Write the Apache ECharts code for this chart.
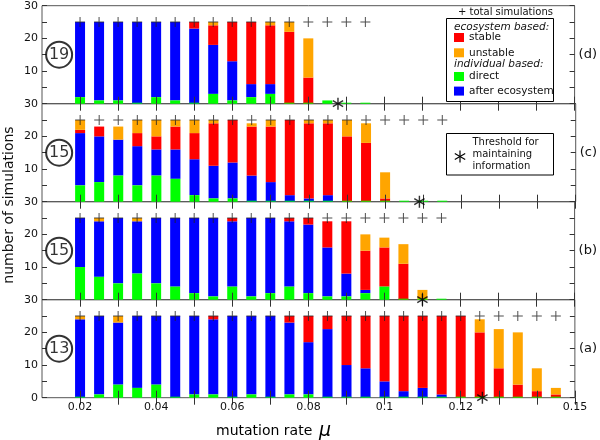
<!DOCTYPE html>
<html><head><meta charset="utf-8">
<script src="https://cdn.jsdelivr.net/npm/echarts@6/dist/echarts.min.js"></script>
<style>html,body{margin:0;padding:0;background:#fff}#chart{width:600px;height:440px}</style>
</head><body><div id="chart"></div>
<script>
// ---------- data ----------
const mutationRates = [0.02,0.025,0.03,0.035,0.04,0.045,0.05,0.055,0.06,0.065,0.07,0.075,0.08,0.085,0.09,0.095,0.1,0.105,0.11,0.115,0.12,0.125,0.13,0.135,0.14,0.145];
const xTickValues = [0.02,0.03,0.04,0.05,0.06,0.07,0.08,0.09,0.1,0.11,0.12,0.13,0.14,0.15];
const xTickLabels = [0.02,0.04,0.06,0.08,0.1,0.12,0.15];
const panelNames = ['(d)','(c)','(b)','(a)'];
const circledNumbers = ['19','15','15','13'];
const thresholds = [0.0878, 0.109, 0.11, 0.1257];

// panel (d)
const directD   = [2,1,1,0,2,1,0,3,1,2,3,0,0,1,0,0];
const afterD    = [23,24,24,25,23,24,23,15,12,4,3,0,0,0,0,0];
const stableD   = [0,0,0,0,0,0,2,6,12,19,18,22,8,0,0,0];
const unstableD = [0,0,0,0,0,0,0,1,0,0,1,3,12,0,0,0];
const totalD    = [25,25,25,25,25,25,25,25,25,25,25,25,25,25,25,25];
// panel (c)
const directC   = [5,6,8,5,8,7,2,1,1,0,0,0,0,0,0,0,0,0,0,0];
const afterC    = [16,14,11,12,8,9,11,10,11,8,6,2,1,2,0,0,0,0,0,0];
const stableC   = [1,3,0,4,4,7,8,13,13,15,17,23,23,22,20,18,1,0,0,0];
const unstableC = [3,0,4,4,5,2,4,1,0,1,2,0,1,1,5,6,8,0,0,0];
const totalC    = [25,25,25,25,25,25,25,25,25,25,25,25,25,25,25,25,25,25,25,25];
// panel (b)
const directB   = [10,7,5,8,5,4,2,1,4,1,2,4,2,1,1,2,4,0,0,0];
const afterB    = [15,17,20,16,20,21,23,24,20,24,23,20,21,15,7,1,0,0,0,0];
const stableB   = [0,0,0,0,0,0,0,0,1,0,0,1,2,8,16,12,12,11,0,0];
const unstableB = [0,1,0,1,0,0,0,0,0,0,0,0,0,0,0,5,3,6,3,0];
const totalB    = [25,25,25,25,25,25,25,25,25,25,25,25,25,25,25,25,25,25,25,25];
// panel (a)
const directA   = [0,1,4,3,4,0,1,1,0,1,0,1,1,0,0,0,0,0,0,0,0,0,0,0,0,0];
const afterA    = [24,24,19,22,21,25,24,23,25,24,25,22,16,21,10,9,5,2,3,1,0,0,0,0,0,0];
const stableA   = [0,0,0,0,0,0,0,1,0,0,0,2,8,4,15,16,20,23,22,24,25,20,9,4,2,1];
const unstableA = [1,0,2,0,0,0,0,0,0,0,0,0,0,0,0,0,0,0,0,0,0,4,12,16,7,2];
const totalA    = [25,25,25,25,25,25,25,25,25,25,25,25,25,25,25,25,25,25,25,25,25,25,25,25,25,25];

const panels = [
  {direct: directD, after: afterD, stable: stableD, unstable: unstableD, total: totalD},
  {direct: directC, after: afterC, stable: stableC, unstable: unstableC, total: totalC},
  {direct: directB, after: afterB, stable: stableB, unstable: unstableB, total: totalB},
  {direct: directA, after: afterA, stable: stableA, unstable: unstableA, total: totalA}
];

// ---------- styling ----------
const FONT = 'DejaVu Sans';
const COLORS = {stable:'#ff0000', unstable:'#ffa500', direct:'#00ff00', after:'#0000ff'};
const plusPath = 'path://M-0.5,-5H0.5V-0.5H5V0.5H0.5V5H-0.5V0.5H-5V-0.5H-0.5Z';
const starPath = 'path://M-0.6,-5L0.6,-5L0.6,5L-0.6,5Z M4.03,-3.02L4.63,-1.98L-4.03,3.02L-4.63,1.98Z M-4.63,-1.98L-4.03,-3.02L4.63,1.98L4.03,3.02Z';

const GRID_TOP = 5.7, GRID_H = 98;
const grids = [], xAxes = [], yAxes = [], series = [];

// value first so that the y dimension is the stacked one; x read via encode
function pairs(arr) { return arr.map((v, k) => [v, mutationRates[k]]); }
const ENC = {x: 1, y: 0};

panels.forEach((p, i) => {
  grids.push({left: 42, right: 22, top: GRID_TOP + i * GRID_H, height: GRID_H,
    show: true, borderColor: '#555', borderWidth: 1, backgroundColor: 'transparent'});
  const isBottom = i === panels.length - 1;
  xAxes.push({gridIndex: i, type: 'value', min: 0.01, max: 0.15, position: 'bottom', z: 5,
    axisLine: {show: false}, splitLine: {show: false},
    axisTick: {show: true, inside: true, length: 7, customValues: xTickValues, lineStyle: {color: '#333'}},
    axisLabel: {show: isBottom, customValues: xTickLabels, fontSize: 11, color: '#111', fontFamily: FONT, margin: 4,
      formatter: v => String(v)}
  });
  xAxes.push({gridIndex: i, type: 'value', min: 0.01, max: 0.15, position: 'top', z: 5,
    axisLine: {show: false}, splitLine: {show: false},
    axisTick: {show: true, inside: true, length: 7, customValues: xTickValues, lineStyle: {color: '#333'}},
    axisLabel: {show: false}
  });
  yAxes.push({gridIndex: i, type: 'value', min: 0, max: 30, interval: 10, position: 'left',
    axisLine: {show: false}, splitLine: {show: false},
    axisTick: {show: true, inside: true, length: 5, lineStyle: {color: '#333'}},
    minorTick: {show: true, splitNumber: 2, length: 5, lineStyle: {color: '#333'}},
    axisLabel: {fontSize: 11, color: '#111', fontFamily: FONT, margin: 4, showMinLabel: isBottom}
  });
  yAxes.push({gridIndex: i, type: 'value', min: 0, max: 30, interval: 10, position: 'right',
    name: panelNames[i], nameLocation: 'middle', nameRotate: 0, nameGap: 4,
    nameTextStyle: {fontSize: 13, color: '#111', fontFamily: FONT, align: 'left'},
    axisLine: {show: false}, splitLine: {show: false},
    axisTick: {show: true, inside: true, length: 5, lineStyle: {color: '#333'}},
    minorTick: {show: true, splitNumber: 2, length: 5, lineStyle: {color: '#333'}},
    axisLabel: {show: false}
  });
  const xi = 2 * i, yi = 2 * i, stack = 'p' + i;
  const bar = (name, arr, color, extra) => Object.assign({type: 'bar', name, xAxisIndex: xi, yAxisIndex: yi, stack,
    barWidth: 10, encode: ENC, itemStyle: {color}, data: pairs(arr)}, extra || {});
  series.push(bar('direct', p.direct, COLORS.direct, {barMinHeight: 1, z: 3}));
  series.push(bar('after ecosystem', p.after, COLORS.after));
  series.push(bar('stable', p.stable, COLORS.stable));
  series.push(bar('unstable', p.unstable, COLORS.unstable));
  series.push({type: 'scatter', name: 'total simulations', xAxisIndex: xi, yAxisIndex: yi, encode: ENC,
    symbol: plusPath, symbolSize: 10, itemStyle: {color: '#222'}, z: 6, silent: true,
    data: pairs(p.total)});
  series.push({type: 'scatter', name: 'threshold', xAxisIndex: xi, yAxisIndex: yi, clip: false,
    symbol: starPath, symbolSize: [11, 12], itemStyle: {color: '#000'}, z: 7, silent: true,
    data: [[thresholds[i], 0]]});
  series.push({type: 'scatter', name: 'panel', xAxisIndex: xi, yAxisIndex: yi, clip: false,
    symbol: 'circle', symbolSize: 26, z: 6, silent: true,
    itemStyle: {color: '#fff', borderColor: '#000', borderWidth: 2},
    label: {show: true, position: 'inside', formatter: circledNumbers[i], fontSize: 16, color: '#000', fontFamily: FONT},
    data: [[0.0145, 15]]});
});

const textStyle = {fontFamily: FONT, fontSize: 10.5, color: '#111'};
const starArm = r => ({type: 'rect', z: 17, rotation: r, shape: {x: -0.6, y: -6, width: 1.2, height: 12}, style: {fill: '#000'}});
const option = {
  animation: false,
  backgroundColor: '#fff',
  textStyle: {fontFamily: FONT},
  grid: grids, xAxis: xAxes, yAxis: yAxes, series,
  legend: [
    {data: ['stable', 'unstable'], orient: 'vertical', left: 454, top: 32, padding: 0, itemGap: 4.3,
      itemWidth: 10, itemHeight: 9, icon: 'rect', textStyle, z: 20, selectedMode: false},
    {data: ['direct', 'after ecosystem'], orient: 'vertical', left: 454, top: 71, padding: 0, itemGap: 3.6,
      itemWidth: 10, itemHeight: 9, icon: 'rect', textStyle, z: 20, selectedMode: false}
  ],
  graphic: [
    {type: 'rect', z: 15, shape: {x: 446.5, y: 18.5, width: 107, height: 83}, style: {fill: '#fff', stroke: '#000', lineWidth: 1}},
    {type: 'text', z: 16, x: 458, y: 12, style: {text: '+ total simulations', fontFamily: FONT, fontSize: 10, fill: '#111', verticalAlign: 'middle'}},
    {type: 'text', z: 16, x: 454, y: 27, style: {text: 'ecosystem based:', fontFamily: FONT, fontSize: 10.5, fontStyle: 'italic', fill: '#111', verticalAlign: 'middle'}},
    {type: 'text', z: 16, x: 454, y: 64.5, style: {text: 'individual based:', fontFamily: FONT, fontSize: 10.5, fontStyle: 'italic', fill: '#111', verticalAlign: 'middle'}},
    {type: 'rect', z: 15, shape: {x: 446.5, y: 133.5, width: 107, height: 41.5}, style: {fill: '#fff', stroke: '#000', lineWidth: 1}},
    {type: 'group', z: 17, x: 460, y: 156.5, children: [starArm(0), starArm(Math.PI / 3), starArm(-Math.PI / 3)]},
    {type: 'text', z: 16, x: 472.5, y: 154.3, style: {text: 'Threshold for\nmaintaining\ninformation', fontFamily: FONT, fontSize: 10, lineHeight: 12.3, fill: '#111', align: 'left', verticalAlign: 'middle'}},
    {type: 'text', z: 16, x: 9, y: 205, rotation: Math.PI / 2, style: {text: 'number of simulations', fontFamily: FONT, fontSize: 14, fill: '#111', align: 'center', verticalAlign: 'middle'}},
    {type: 'text', z: 16, x: 216, y: 431, style: {text: '{a|mutation rate}  {b|μ}', verticalAlign: 'middle',
      rich: {a: {fontFamily: FONT, fontSize: 14, color: '#111'}, b: {fontFamily: FONT, fontSize: 19, fontStyle: 'italic', color: '#111'}}}}
  ]
};
const chart = echarts.init(document.getElementById('chart'));
chart.setOption(option);
</script></body></html>
